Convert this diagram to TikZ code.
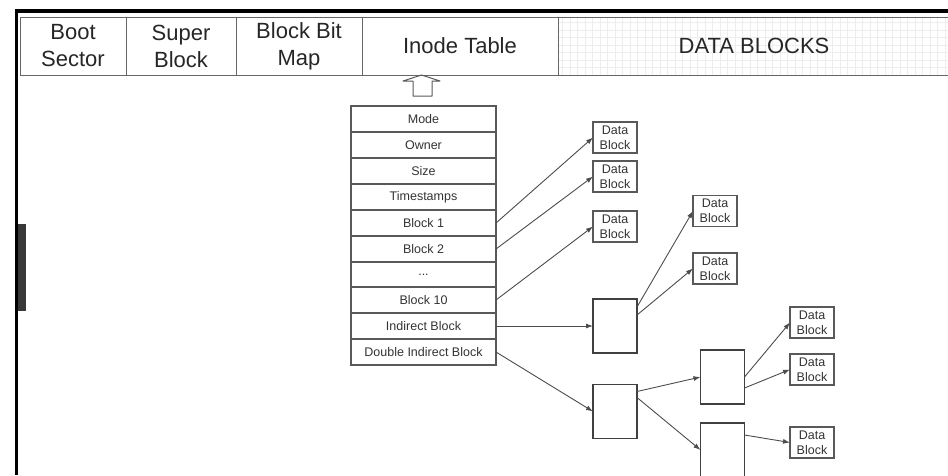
\documentclass[tikz,border=0pt]{standalone}
\usepackage{fontspec}
\setmainfont{Liberation Sans}
\usetikzlibrary{arrows.meta}

\begin{document}
\begin{tikzpicture}[x=1pt,y=-1pt]

\tikzset{
  head cell/.style={
    draw=black!60, line width=0.9pt,
    inner sep=0pt, outer sep=0pt,
    minimum height=58pt, align=center,
    font=\fontsize{22}{27}\selectfont, text=black!85
  },
  inode cell/.style={
    draw=black!65, line width=1.2pt,
    inner sep=0pt, outer sep=0pt,
    minimum width=145pt, minimum height=25.9pt,
    font=\fontsize{12.5}{15}\selectfont, text=black!80
  },
  data block/.style={
    draw=black!65, line width=1.2pt,
    inner sep=0pt, outer sep=0pt,
    minimum width=44pt, minimum height=31pt, align=center,
    font=\fontsize{12.5}{15}\selectfont, text=black!80
  },
  ptr block/.style={
    draw=black!75, line width=1.2pt,
    inner sep=0pt, outer sep=0pt,
    minimum width=44pt, minimum height=54pt
  },
  link/.style={
    draw=black!70, line width=0.9pt,
    -{Latex[length=7pt,width=5pt]}
  }
}

\useasboundingbox (0,0) rectangle (948,475);

% Frame
\fill[black] (15,9) rectangle (948,13);
\fill[black] (15,9) rectangle (18,475);
\fill[black!78] (18,224) rectangle (26,311);

% Grid behind the data area
\draw[black!7, line width=0.5pt, step=7.5pt] (558,17) grid (948,75);

% Disk layout
\node[head cell, minimum width=106pt] (boot)  at (73,46)  {Boot\\Sector};
\node[head cell, minimum width=110pt] (super) at (181,46) {Super\\Block};
\node[head cell, minimum width=126pt] (bmap)  at (299,46) {Block Bit\\Map};
\node[head cell, minimum width=196pt] (itab)  at (460,46) {Inode Table};
\node[head cell, minimum width=392pt] (data)  at (754,46) {DATA BLOCKS};

% Hollow arrow up to the inode table
\draw[black!65, line width=1pt, line join=round]
  (421.5,75) -- (440,81) -- (432,81) -- (432,96) -- (413,96)
  -- (413,81) -- (403,81) -- cycle;

% Inode
\node[inode cell] (mode)  at (423.5,119)   {Mode};
\node[inode cell] (owner) at (423.5,145)   {Owner};
\node[inode cell] (size)  at (423.5,171)   {Size};
\node[inode cell] (times) at (423.5,197)   {Timestamps};
\node[inode cell] (blk1)  at (423.5,223)   {Block 1};
\node[inode cell] (blk2)  at (423.5,249)   {Block 2};
\node[inode cell] (dots)  at (423.5,274.5) {...};
\node[inode cell] (blk10) at (423.5,300)   {Block 10};
\node[inode cell] (ind)   at (423.5,326)   {Indirect Block};
\node[inode cell] (dind)  at (423.5,352)   {Double Indirect Block};

% Direct data blocks
\node[data block] (db1) at (615,137.5) {Data\\Block};
\node[data block] (db2) at (615,176.5) {Data\\Block};
\node[data block] (db3) at (615,226.5) {Data\\Block};

% Indirect blocks
\node[ptr block] (ib)   at (615,326)   {};
\node[ptr block] (dib)  at (615,411.5) {};
\node[ptr block] (dib1) at (722.5,377) {};
\node[ptr block] (dib2) at (722.5,450) {};

% Data blocks behind the indirect blocks
\node[data block] (db4) at (715,211)   {Data\\Block};
\node[data block] (db5) at (715,268.5) {Data\\Block};
\node[data block] (db6) at (812,322.5) {Data\\Block};
\node[data block] (db7) at (812,369.5) {Data\\Block};
\node[data block] (db8) at (812,442.5) {Data\\Block};

% Edges
\draw[link] (blk1.east)  -- (db1.west);
\draw[link] (blk2.east)  -- (db2.west);
\draw[link] (blk10.east) -- (db3.west);
\draw[link] (ind.east)   -- (ib.west);
\draw[link] (dind.east)  -- (dib.west);

\draw[link] ([yshift=-8pt]ib.north east)  -- (db4.west);
\draw[link] ([yshift=-16pt]ib.north east) -- (db5.west);

\draw[link] ([yshift=-7pt]dib.north east)  -- (dib1.west);
\draw[link] ([yshift=-13pt]dib.north east) -- (dib2.west);

\draw[link] (dib1.east) -- (db6.west);
\draw[link] ([yshift=-11pt]dib1.east) -- (db7.west);
\draw[link] ([yshift=-12pt]dib2.north east) -- (db8.west);

\end{tikzpicture}
\end{document}
